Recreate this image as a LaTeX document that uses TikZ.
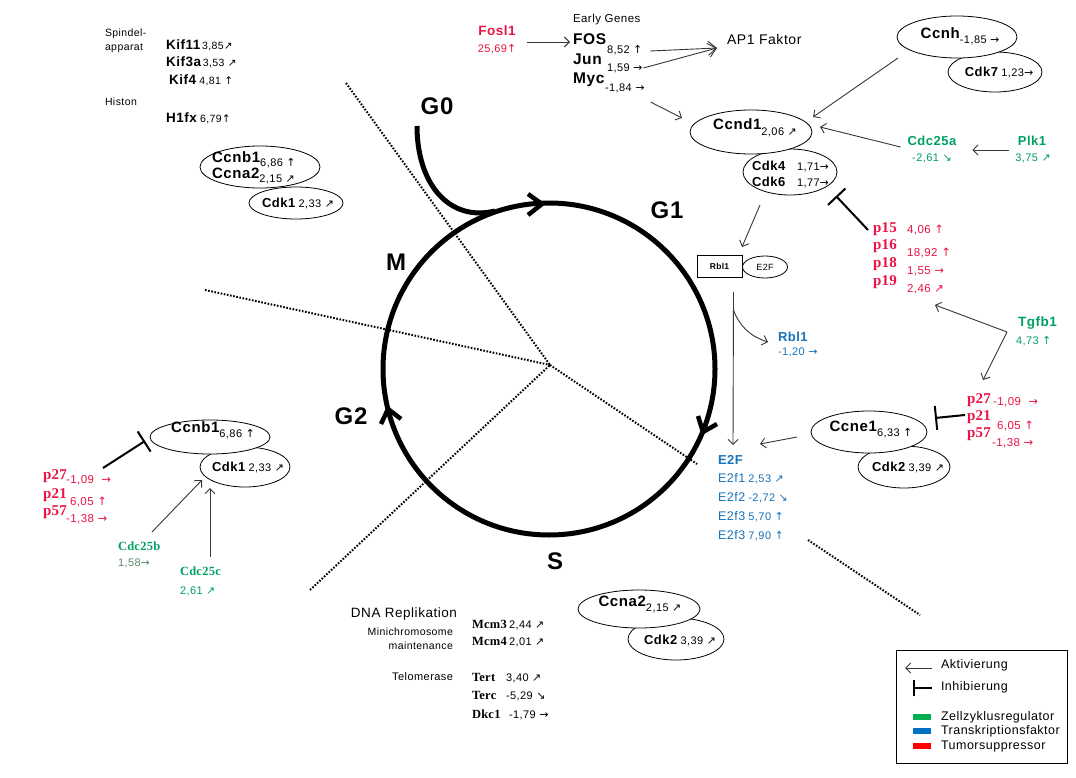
\documentclass[tikz,border=0pt]{standalone}
\usepackage{fontspec}
\setmainfont{Liberation Sans}[LetterSpace=4]
\newfontfamily\serb{Liberation Serif}[LetterSpace=2]
\newfontfamily\dv{DejaVu Sans}
\usetikzlibrary{arrows.meta,shapes.geometric}
\definecolor{tred}{RGB}{235,20,70}
\definecolor{tgreen}{RGB}{0,160,100}
\definecolor{tgray}{RGB}{90,135,110}
\definecolor{tblue}{RGB}{25,115,185}
\definecolor{lgreen}{RGB}{0,176,80}
\definecolor{lblue}{RGB}{0,112,192}
\definecolor{lred}{RGB}{255,0,0}
\definecolor{ln}{RGB}{55,55,55}
\newcommand\gL[1]{{\bfseries\fontsize{15}{17}\selectfont #1}}
\newcommand\gF[1]{{\bfseries\fontsize{15.5}{17}\selectfont #1}}
\newcommand\gM[1]{{\bfseries\fontsize{13.5}{15}\selectfont #1}}
\newcommand\gC[1]{{\bfseries\fontsize{13}{15}\selectfont #1}}
\newcommand\gS[1]{{\serb\bfseries\fontsize{15}{17}\selectfont #1}}
\newcommand\gT[1]{{\serb\bfseries\fontsize{12.5}{15}\selectfont #1}}
\newcommand\eF[1]{{\fontsize{12.5}{14}\selectfont #1}}
\newcommand\vl[1]{{\fontsize{11}{12}\selectfont #1}}
\newcommand\vs[1]{{\fontsize{10.5}{11}\selectfont #1}}
\newcommand\vL[1]{{\fontsize{11.5}{13}\selectfont #1}}
\newcommand\aU{{\dv ↑}}
\newcommand\aR{{\dv →}}
\newcommand\aNE{{\dv ↗}}
\newcommand\aSE{{\dv ↘}}
\newcommand\lgf{\fontsize{12.5}{14}\selectfont}
\begin{document}
\begin{tikzpicture}[x=1pt,y=-1pt,
  every node/.style={inner sep=0pt, outer sep=0pt},
  txt/.style={anchor=west},
  ell/.style={ellipse, draw=black, fill=white, line width=0.8pt},
  act/.style={draw=ln, line width=0.9pt, -{Straight Barb[length=5pt,width=10pt,line width=0.9pt]}},
  inh/.style={draw=black, line width=2pt, -{Bar[width=24pt,line width=2pt]}},
  phase/.style={font=\bfseries\fontsize{24}{26}\selectfont},
  dotl/.style={line width=2pt, dash pattern=on 1.6pt off 1.6pt},
  cyc/.style={line width=5pt},
  cychead/.style={line width=4.5pt, line join=miter}
]
\useasboundingbox[fill=white] (0,0) rectangle (1076,778);

% dotted phase borders
\draw[dotl] (346,83) -- (550,365);
\draw[dotl] (205,290) -- (550,365);
\draw[dotl] (310,590) -- (550,365);
\draw[dotl] (550,365) -- (697,464);
\draw[dotl] (808,540) -- (920,615);

% cycle
\coordinate (cc) at (549,369);
\draw[cyc] (cc) circle[radius=166];
\draw[cyc] (417,126) .. controls (417,185) and (450,222) .. (495,211);
\draw[cychead] (528,194) -- (542,204) -- (528,215);
\draw[cychead] (698,416) -- (703,432) -- (717,424);
\draw[cychead] (401,419) -- (388,409) -- (381,424);

\node[phase] (g0) at (437,106) {G0};
\node[phase] (g1) at (667,210) {G1};
\node[phase] (m) at (396,262) {M};
\node[phase] (g2) at (351,416) {G2};
\node[phase] (s) at (555,561) {S};

% top left
\node[txt, font=\fontsize{10.5}{12}\selectfont] (spin1) at (105,34) {Spindel-};
\node[txt, font=\fontsize{10.5}{12}\selectfont] (spin2) at (105,48) {apparat};
\node[txt] (kif11) at (166,45) {\gM{Kif11}\,\vs{3,85\aNE}};
\node[txt] (kif3a) at (166,62) {\gM{Kif3a}\,\vs{3,53 \aNE}};
\node[txt] (kif4) at (169,80) {\gM{Kif4}\ \vs{4,81 \aU}};
\node[txt, font=\fontsize{10.5}{12}\selectfont] (histon) at (105,102) {Histon};
\node[txt] (h1fx) at (166,118) {\gM{H1fx}\ \vs{6,79\aU}};

\node[ell, minimum width=94pt, minimum height=32pt] (cdk1a) at (296,203) {};
\node (cdk1at) at (298,203) {\gC{Cdk1}\ \vl{2,33 \aNE}};
\node[ell, minimum width=120pt, minimum height=42pt] (ccnb1a) at (260,167) {};
\node[txt] (ccnb1at) at (212,160) {\gL{Ccnb1}\raisebox{-4pt}{\vl{6,86 \aU}}};
\node[txt] (ccna2at) at (212,176) {\gL{Ccna2}\raisebox{-4pt}{\vl{2,15 \aNE}}};

% top middle
\node[text=tred] (fosl1) at (497,31) {\gM{Fosl1}};
\node[text=tred] (fosl1v) at (497,49) {\vl{25,69\aU}};
\node[txt, font=\fontsize{11.5}{13}\selectfont] (early) at (573,20) {Early Genes};
\node[txt] (fos) at (573,39) {\gF{FOS}};
\node[txt] (fosv) at (607,50) {\vl{8,52 \aU}};
\node[txt] (jun) at (573,59) {\gF{Jun}};
\node[txt] (junv) at (607,68) {\vl{1,59 \aR}};
\node[txt] (myc) at (573,80) {\gF{Myc}};
\node[txt] (mycv) at (605,88) {\vl{-1,84 \aR}};
\node[txt, font=\fontsize{14}{16}\selectfont] (ap1) at (727,39) {AP1 Faktor};
\draw[act] ([shift={(11,11)}]fosl1.east) -- ([shift={(-3,3)}]fos.west);
\draw[act, -{Straight Barb[length=8pt,width=14pt,line width=0.9pt]}] ([shift={(8,1)}]fosv.east) -- ([shift={(-10,9)}]ap1.west);
\draw[act, -{Straight Barb[length=8pt,width=14pt,line width=0.9pt]}] ([shift={(1,0)}]junv.east) -- ([shift={(-10,9)}]ap1.west);

% top right
\node[ell, minimum width=94pt, minimum height=40pt] (cdk7) at (995,72) {};
\node (cdk7t) at (999,72) {\gC{Cdk7}\ \vl{1,23\aR}};
\node[ell, minimum width=120pt, minimum height=42pt] (ccnh) at (957,37) {};
\node (ccnht) at (960,36) {\gL{Ccnh}\raisebox{-5pt}{\vl{-1,85 \aR}}};

\node[ell, minimum width=94pt, minimum height=46pt] (cdk46) at (790,172) {};
\node[txt] (cdk4t) at (752,166) {\makebox[45pt][l]{\gC{Cdk4}}\vl{1,71\aR}};
\node[txt] (cdk6t) at (752,182) {\makebox[45pt][l]{\gC{Cdk6}}\vl{1,77\aR}};
\node[ell, minimum width=122pt, minimum height=44pt] (ccnd1) at (751,132) {};
\node (ccnd1t) at (755,128) {\gL{Ccnd1}\raisebox{-6pt}{\vl{2,06 \aNE}}};

\node[text=tgreen] (cdc25a) at (932,141) {\gC{Cdc25a}};
\node[text=tgreen] (cdc25av) at (932,158) {\vl{-2,61 \aSE}};
\node[text=tgreen] (plk1) at (1032,141) {\gC{Plk1}};
\node[text=tgreen] (plk1v) at (1033,158) {\vl{3,75 \aNE}};

\draw[act] ([shift={(6,14)}]mycv.east) -- ([shift={(-69,-14)}]ccnd1.center);
\draw[act] ([shift={(-59,21)}]ccnh.center) -- ([shift={(62,-15)}]ccnd1.center);
\draw[act] ([shift={(-7,6)}]cdc25a.west) -- ([shift={(69,-5)}]ccnd1.center);
\draw[act] ([shift={(-9,9)}]plk1.west) -- ([shift={(16,9)}]cdc25a.east);

% p15 - p19
\node[txt, text=tred] (p15) at (873,229) {\gS{p15}};
\node[txt, text=tred] (p16) at (873,246) {\gS{p16}};
\node[txt, text=tred] (p18) at (873,264) {\gS{p18}};
\node[txt, text=tred] (p19) at (873,282) {\gS{p19}};
\node[txt, text=tred] (p15v) at (907,230) {\vL{4,06 \aU}};
\node[txt, text=tred] (p16v) at (907,253) {\vL{18,92 \aU}};
\node[txt, text=tred] (p18v) at (907,271) {\vL{1,55 \aR}};
\node[txt, text=tred] (p19v) at (907,289) {\vL{2,46 \aNE}};
\draw[inh] ([shift={(-5,1)}]p15.west) -- ([shift={(46,24)}]cdk46.center);

% Rbl1 / E2F
\node[draw, line width=0.8pt, minimum width=45pt, minimum height=22pt, font=\bfseries\fontsize{8.5}{10}\selectfont] (rbl1box) at (719.5,266) {Rbl1};
\node[ell, minimum width=45pt, minimum height=22pt, font=\fontsize{9}{10}\selectfont] (e2fell) at (765,267) {E2F};
\draw[act] ([shift={(-30,33)}]cdk46.center) -- ([shift={(0,-8)}]rbl1box.north east);

\node[txt, text=tblue] (e2flab) at (718,460) {\gC{E2F}};
\node[txt, text=tblue] (e2f1) at (718,479) {\eF{E2f1}\ \vl{2,53 \aNE}};
\node[txt, text=tblue] (e2f2) at (718,498) {\eF{E2f2}\ \vl{-2,72 \aSE}};
\node[txt, text=tblue] (e2f3a) at (718,517) {\eF{E2f3}\ \vl{5,70 \aU}};
\node[txt, text=tblue] (e2f3b) at (718,536) {\eF{E2f3}\ \vl{7,90 \aU}};
\node[txt, text=tblue] (rbl1n) at (778,337) {\gC{Rbl1}};
\node[txt, text=tblue] (rbl1v) at (778,352) {\vl{-1,20 \aR}};
\draw[act] ([shift={(14,26)}]rbl1box.center) -- ([shift={(15,-15)}]e2flab.west);
\draw[act] ([shift={(14,44)}]rbl1box.center) .. controls ([shift={(20,60)}]rbl1box.center) and ([shift={(30,70)}]rbl1box.center) .. ([shift={(-10,5)}]rbl1n.west);

% Tgfb1 and p27 right
\node[txt, text=tgreen] (tgfb1) at (1018,323) {\gM{Tgfb1}};
\node[txt, text=tgreen] (tgfb1v) at (1016,341) {\vl{4,73 \aU}};
\node[txt, text=tred] (p27r) at (967,400) {\gS{p27}};
\node[txt, text=tred] (p21r) at (967,417) {\gS{p21}};
\node[txt, text=tred] (p57r) at (967,434) {\gS{p57}};
\node[txt, text=tred] (p27rv) at (993,402) {\vL{-1,09 \ \aR}};
\node[txt, text=tred] (p21rv) at (997,426) {\vL{6,05 \aU}};
\node[txt, text=tred] (p57rv) at (992,443) {\vL{-1,38 \aR}};
\draw[act] ([shift={(-11,9)}]tgfb1.west) -- ([shift={(28,16)}]p19v.west);
\draw[act] ([shift={(-11,9)}]tgfb1.west) -- ([shift={(16,-20)}]p27r.west);

\node[ell, minimum width=92pt, minimum height=42pt] (cdk2r) at (904,467) {};
\node (cdk2rt) at (908,467) {\gC{Cdk2}\ \vl{3,39 \aNE}};
\node[ell, minimum width=116pt, minimum height=42pt] (ccne1) at (869,432) {};
\node (ccne1t) at (871,429) {\gL{Ccne1}\raisebox{-5pt}{\vl{6,33 \aU}}};
\draw[inh] ([shift={(-2,-2)}]p21r.west) -- ([shift={(66,-14)}]ccne1.center);
\draw[act] ([shift={(-72,5)}]ccne1.center) -- ([shift={(42,-16)}]e2flab.west);

% bottom
\node[ell, minimum width=96pt, minimum height=42pt] (cdk2b) at (676,639) {};
\node (cdk2bt) at (680,640) {\gC{Cdk2}\ \vl{3,39 \aNE}};
\node[ell, minimum width=122pt, minimum height=38pt] (ccna2b) at (639,609) {};
\node (ccna2bt) at (640,604) {\gL{Ccna2}\raisebox{-5pt}{\vl{2,15 \aNE}}};

\node[anchor=east, font=\fontsize{13.5}{15}\selectfont] (dna) at (457,614) {DNA Replikation};
\node[anchor=east, font=\fontsize{10.5}{12}\selectfont] (mini1) at (453,632) {Minichromosome};
\node[anchor=east, font=\fontsize{10.5}{12}\selectfont] (mini2) at (453,646) {maintenance};
\node[anchor=east, font=\fontsize{11}{12}\selectfont] (telo) at (453,677) {Telomerase};
\node[txt] (mcm3) at (472,625) {\makebox[37pt][l]{\gT{Mcm3}}\vl{2,44 \aNE}};
\node[txt] (mcm4) at (472,642) {\makebox[37pt][l]{\gT{Mcm4}}\vl{2,01 \aNE}};
\node[txt] (tert) at (472,678) {\makebox[34pt][l]{\gT{Tert}}\vl{3,40 \aNE}};
\node[txt] (terc) at (472,696) {\makebox[34pt][l]{\gT{Terc}}\vl{-5,29 \aSE}};
\node[txt] (dkc1) at (472,715) {\makebox[37pt][l]{\gT{Dkc1}}\vl{-1,79 \aR}};

% left bottom
\node[ell, minimum width=90pt, minimum height=40pt] (cdk1b) at (245,467) {};
\node (cdk1bt) at (248,467) {\gC{Cdk1}\ \vl{2,33 \aNE}};
\node[ell, minimum width=120pt, minimum height=34pt] (ccnb1b) at (210,437) {};
\node (ccnb1bt) at (213,430) {\gL{Ccnb1}\raisebox{-5pt}{\vl{6,86 \aU}}};

\node[txt, text=tred] (p27l) at (43,476) {\gS{p27}};
\node[txt, text=tred] (p21l) at (43,495) {\gS{p21}};
\node[txt, text=tred] (p57l) at (43,512) {\gS{p57}};
\node[txt, text=tred] (p27lv) at (66,480) {\vL{-1,09 \ \aR}};
\node[txt, text=tred] (p21lv) at (70,502) {\vL{6,05 \aU}};
\node[txt, text=tred] (p57lv) at (66,519) {\vL{-1,38 \aR}};
\draw[inh] ([shift={(60,-8)}]p27l.west) -- ([shift={(-65,4)}]ccnb1b.center);

\node[txt, text=tgreen] (cdc25b) at (118,546) {\gT{Cdc25b}};
\node[txt, text=tgray] (cdc25bv) at (118,563) {\vl{1,58\aR}};
\node[txt, text=tgreen] (cdc25c) at (180,571) {\gT{Cdc25c}};
\node[txt, text=tgreen] (cdc25cv) at (180,591) {\vl{2,61 \aNE}};
\draw[act] ([shift={(34,-14)}]cdc25b.west) -- ([shift={(-43,13)}]cdk1b.center);
\draw[act] ([shift={(30,-14)}]cdc25c.west) -- ([shift={(-35,21)}]cdk1b.center);

% legend
\node[draw, line width=0.8pt, minimum width=171pt, minimum height=113pt] (legend) at (981.5,706.5) {};
\node[txt, font=\lgf] (lakt) at (941,665) {Aktivierung};
\node[txt, font=\lgf] (linh) at (941,687) {Inhibierung};
\draw[act] ([shift={(-9,3)}]lakt.west) -- ([shift={(-36,3)}]lakt.west);
\draw[draw=black, line width=1.2pt, -{Bar[width=16pt,line width=2pt]}] ([shift={(-9,1)}]linh.west) -- ([shift={(-28,1)}]linh.west);
\fill[lgreen] (913,714) rectangle (931,720);
\fill[lblue] (913,728) rectangle (931,734);
\fill[lred] (913,743) rectangle (931,749);
\node[txt, font=\lgf] (lzell) at (941,717) {Zellzyklusregulator};
\node[txt, font=\lgf] (ltrans) at (941,731) {Transkriptionsfaktor};
\node[txt, font=\lgf] (ltum) at (941,746) {Tumorsuppressor};
\end{tikzpicture}
\end{document}
